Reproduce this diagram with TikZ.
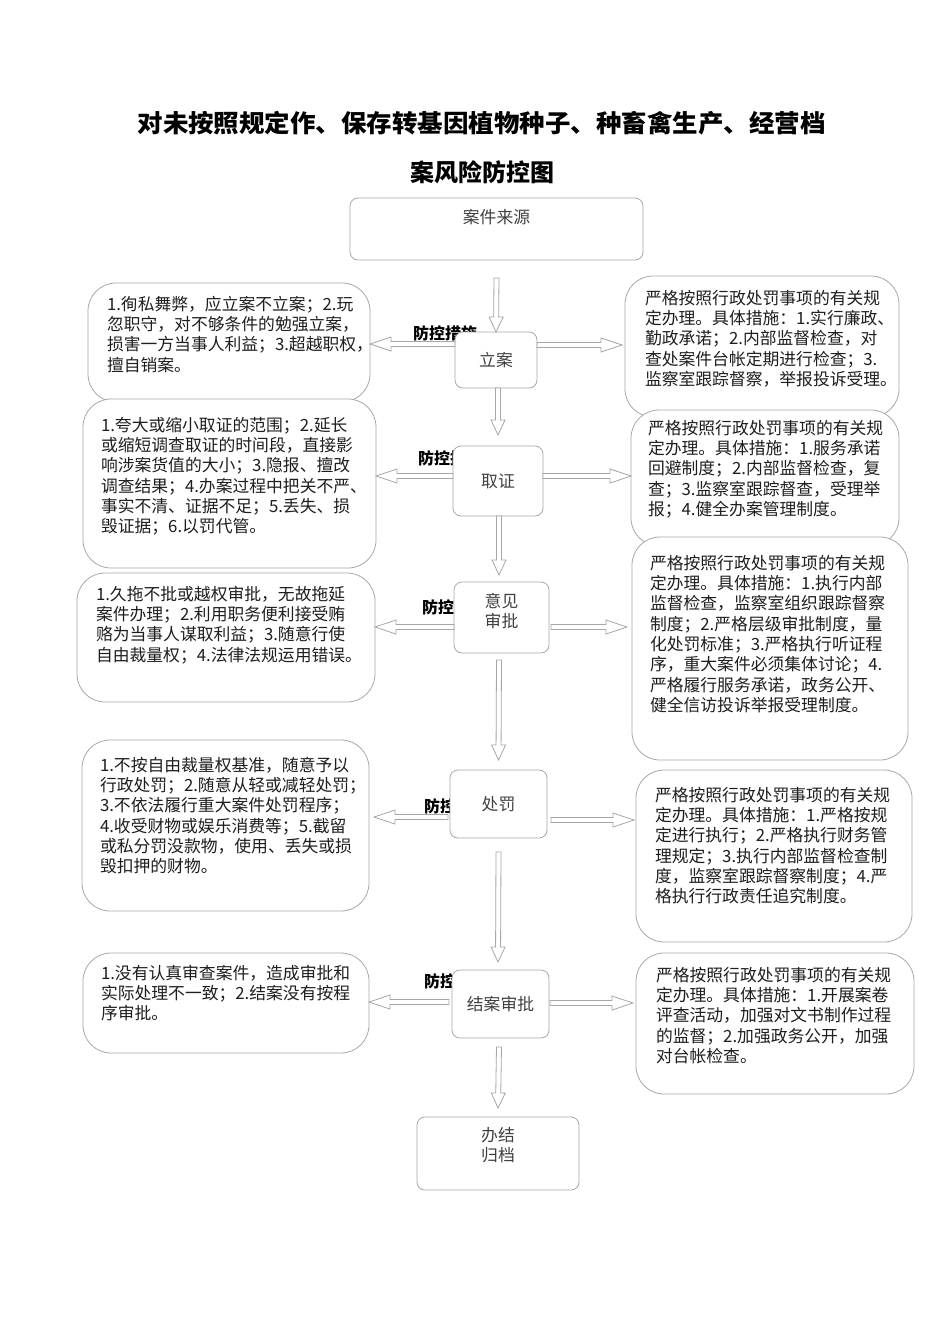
\documentclass[tikz,border=0pt]{standalone}
\usepackage{fontspec}
\setmainfont{Noto Sans CJK SC}
\usetikzlibrary{calc}
\definecolor{boxline}{HTML}{A8A8A8}
\definecolor{arrline}{HTML}{A6A6A6}
\definecolor{ctext}{HTML}{404040}
\definecolor{btext}{HTML}{1E1E1E}
\tikzset{
  every node/.style={inner sep=0pt, outer sep=0pt},
  stagebox/.style={draw=boxline, line width=0.8pt, fill=white, rounded corners=8pt,
     font=\fontsize{16.8}{20.3}\selectfont, text=ctext, align=center},
  riskbox/.style={draw=boxline, line width=0.8pt, fill=white, rounded corners=28pt, anchor=north west},
  bodytext/.style={anchor=north west, align=left, text=btext, font=\fontsize{16.8}{20.3}\selectfont},
  stagetext/.style={align=center, text=ctext, font=\fontsize{16.8}{20.3}\selectfont},
  lbl/.style={anchor=west, font=\bfseries\fontsize{16}{18}\selectfont, text=black},
  titletext/.style={font=\bfseries\fontsize{24.5}{28}\selectfont, text=black},
  arr/.style={draw=arrline, line width=0.8pt, fill=white, line join=miter}
}
\newcommand\hollowarrow[3][18pt]{%
  \coordinate (hb) at ($(#3)!#1!(#2)$);
  \draw[arr] ($(#2)!2.5pt!90:(#3)$) -- ($(hb)!2.5pt!-90:(#2)$) -- ($(hb)!7pt!-90:(#2)$)
    -- (#3) -- ($(hb)!7pt!90:(#2)$) -- ($(hb)!2.5pt!90:(#2)$) -- ($(#2)!2.5pt!-90:(#3)$) -- cycle;}
\begin{document}
\begin{tikzpicture}[x=1pt,y=-1pt]
\useasboundingbox[fill=white] (0,0) rectangle (950,1344);

% title
\node[titletext] (t1) at (481.5,123) {\scalebox{1.04}[1]{对未按照规定作、保存转基因植物种子、种畜禽生产、经营档}};
\node[titletext, font=\bfseries\fontsize{24}{28}\selectfont] (t2) at (482,172) {案风险防控图};

% labels (partly hidden behind stage boxes)
\node[lbl] (k1) at (413,333) {防控措施};
\node[lbl] (k2) at (418,458) {防控措施};
\node[lbl] (k3) at (422,607) {防控措施};
\node[lbl] (k4) at (424,806) {防控措施};
\node[lbl] (k5) at (424,981) {防控措施};

% stage boxes
\node[stagebox, minimum width=293pt, minimum height=62pt] (src) at (496.5,229) {};
\node[stagetext] (srct) at (496.5,217) {案件来源};
\node[stagebox, minimum width=82pt, minimum height=56pt] (la) at (496,360) {立案};
\node[stagebox, minimum width=90pt, minimum height=70pt] (qz) at (498,481) {取证};
\node[stagebox, minimum width=95pt, minimum height=71pt] (yj) at (501.5,617.5) {};
\node[stagetext] (yjt) at (501.5,611) {意见\\审批};
\node[stagebox, minimum width=97pt, minimum height=68pt] (cf) at (498.5,804) {处罚};
\node[stagebox, minimum width=97pt, minimum height=68pt] (ja) at (500.5,1004) {结案审批};
\node[stagebox, minimum width=162pt, minimum height=73pt] (bj) at (498,1153.5) {};
\node[stagetext] (bjt) at (498,1145) {办结\\归档};

% left risk boxes
\node[riskbox, minimum width=282pt, minimum height=119pt] (L1) at (88,283) {};
\node[bodytext] (L1t) at (107,296) {1.徇私舞弊，应立案不立案；2.玩\\忽职守，对不够条件的勉强立案，\\损害一方当事人利益；3.超越职权，\\擅自销案。};
\node[riskbox, minimum width=293pt, minimum height=169pt] (L2) at (83,399) {};
\node[bodytext] (L2t) at (101,417) {1.夸大或缩小取证的范围；2.延长\\或缩短调查取证的时间段，直接影\\响涉案货值的大小；3.隐报、擅改\\调查结果；4.办案过程中把关不严、\\事实不清、证据不足；5.丢失、损\\毁证据；6.以罚代管。};
\node[riskbox, minimum width=298pt, minimum height=129pt] (L3) at (77,573) {};
\node[bodytext] (L3t) at (96,586) {1.久拖不批或越权审批，无故拖延\\案件办理；2.利用职务便利接受贿\\赂为当事人谋取利益；3.随意行使\\自由裁量权；4.法律法规运用错误。};
\node[riskbox, minimum width=287pt, minimum height=171pt] (L4) at (82,740) {};
\node[bodytext] (L4t) at (100,757) {1.不按自由裁量权基准，随意予以\\行政处罚；2.随意从轻或减轻处罚；\\3.不依法履行重大案件处罚程序；\\4.收受财物或娱乐消费等；5.截留\\或私分罚没款物，使用、丢失或损\\毁扣押的财物。};
\node[riskbox, minimum width=286pt, minimum height=100pt] (L5) at (83,953) {};
\node[bodytext] (L5t) at (101,965) {1.没有认真审查案件，造成审批和\\实际处理不一致；2.结案没有按程\\序审批。};

% right measure boxes
\node[riskbox, minimum width=274pt, minimum height=141pt] (R1) at (625,276) {};
\node[bodytext] (R1t) at (645,290) {严格按照行政处罚事项的有关规\\定办理。具体措施：1.实行廉政、\\勤政承诺；2.内部监督检查，对\\查处案件台帐定期进行检查；3.\\监察室跟踪督察，举报投诉受理。};
\node[riskbox, minimum width=268pt, minimum height=136pt] (R2) at (631,410) {};
\node[bodytext] (R2t) at (648,420) {严格按照行政处罚事项的有关规\\定办理。具体措施：1.服务承诺\\回避制度；2.内部监督检查，复\\查；3.监察室跟踪督查，受理举\\报；4.健全办案管理制度。};
\node[riskbox, minimum width=276pt, minimum height=223pt] (R3) at (632,537) {};
\node[bodytext] (R3t) at (650,555) {严格按照行政处罚事项的有关规\\定办理。具体措施：1.执行内部\\监督检查，监察室组织跟踪督察\\制度；2.严格层级审批制度，量\\化处罚标准；3.严格执行听证程\\序，重大案件必须集体讨论；4.\\严格履行服务承诺，政务公开、\\健全信访投诉举报受理制度。};
\node[riskbox, minimum width=276pt, minimum height=172pt] (R4) at (636,770) {};
\node[bodytext] (R4t) at (655,787) {严格按照行政处罚事项的有关规\\定办理。具体措施：1.严格按规\\定进行执行；2.严格执行财务管\\理规定；3.执行内部监督检查制\\度，监察室跟踪督察制度；4.严\\格执行行政责任追究制度。};
\node[riskbox, minimum width=278pt, minimum height=141pt] (R5) at (636,953) {};
\node[bodytext] (R5t) at (656,967) {严格按照行政处罚事项的有关规\\定办理。具体措施：1.开展案卷\\评查活动，加强对文书制作过程\\的监督；2.加强政务公开，加强\\对台帐检查。};

% vertical flow arrows
\coordinate (v1a) at ([yshift=-18pt]src.south);
\hollowarrow[15pt]{v1a}{la.north}
\coordinate (v2a) at ([xshift=2pt]la.south);
\coordinate (v2b) at ([yshift=11pt]qz.north);
\hollowarrow[15pt]{v2a}{v2b}
\coordinate (v3a) at ([xshift=1pt]qz.south);
\coordinate (v3b) at ([xshift=-2.5pt,yshift=7pt]yj.north);
\hollowarrow[15pt]{v3a}{v3b}
\coordinate (v4a) at ([xshift=-2.5pt,yshift=-7pt]yj.south);
\coordinate (v4b) at ([yshift=10pt]cf.north);
\hollowarrow[15pt]{v4a}{v4b}
\coordinate (v5a) at ([yshift=-14pt]cf.south);
\coordinate (v5b) at ([xshift=-2.5pt,yshift=8pt]ja.north);
\hollowarrow[15pt]{v5a}{v5b}
\coordinate (v6a) at ([xshift=-1.5pt,yshift=-9pt]ja.south);
\coordinate (v6b) at ([yshift=9pt]bj.north);
\hollowarrow[15pt]{v6a}{v6b}

% left arrows (to risks)
\coordinate (l1a) at ([yshift=16pt]la.west);
\coordinate (l1b) at (L1.east |- l1a);
\hollowarrow[21pt]{l1a}{l1b}
\coordinate (l2a) at ([yshift=5pt]qz.west);
\coordinate (l2b) at (L2.east |- l2a);
\hollowarrow[21pt]{l2a}{l2b}
\coordinate (l3a) at ([yshift=-9.5pt]yj.west);
\coordinate (l3b) at (L3.east |- l3a);
\hollowarrow[21pt]{l3a}{l3b}
\coordinate (l4a) at ([xshift=-2pt,yshift=-13pt]cf.west);
\coordinate (l4b) at ([xshift=5pt]L4.east |- l4a);
\hollowarrow[21pt]{l4a}{l4b}
\coordinate (l5a) at ([xshift=-3pt,yshift=2pt]ja.west);
\coordinate (l5b) at (L5.east |- l5a);
\hollowarrow[21pt]{l5a}{l5b}

% right arrows (to measures)
\coordinate (r1a) at ([yshift=15pt]la.east);
\coordinate (r1b) at ([xshift=-3pt]R1.west |- r1a);
\hollowarrow[21pt]{r1a}{r1b}
\coordinate (r2a) at ([yshift=5pt]qz.east);
\coordinate (r2b) at (R2.west |- r2a);
\hollowarrow[21pt]{r2a}{r2b}
\coordinate (r3a) at ([xshift=2pt,yshift=-9.5pt]yj.east);
\coordinate (r3b) at ([xshift=-5pt]R3.west |- r3a);
\hollowarrow[21pt]{r3a}{r3b}
\coordinate (r4a) at ([xshift=4pt,yshift=-16pt]cf.east);
\coordinate (r4b) at ([xshift=-2pt]R4.west |- r4a);
\hollowarrow[21pt]{r4a}{r4b}
\coordinate (r5a) at ([xshift=1pt,yshift=1pt]ja.east);
\coordinate (r5b) at ([xshift=-3pt]R5.west |- r5a);
\hollowarrow[21pt]{r5a}{r5b}
\end{tikzpicture}
\end{document}
